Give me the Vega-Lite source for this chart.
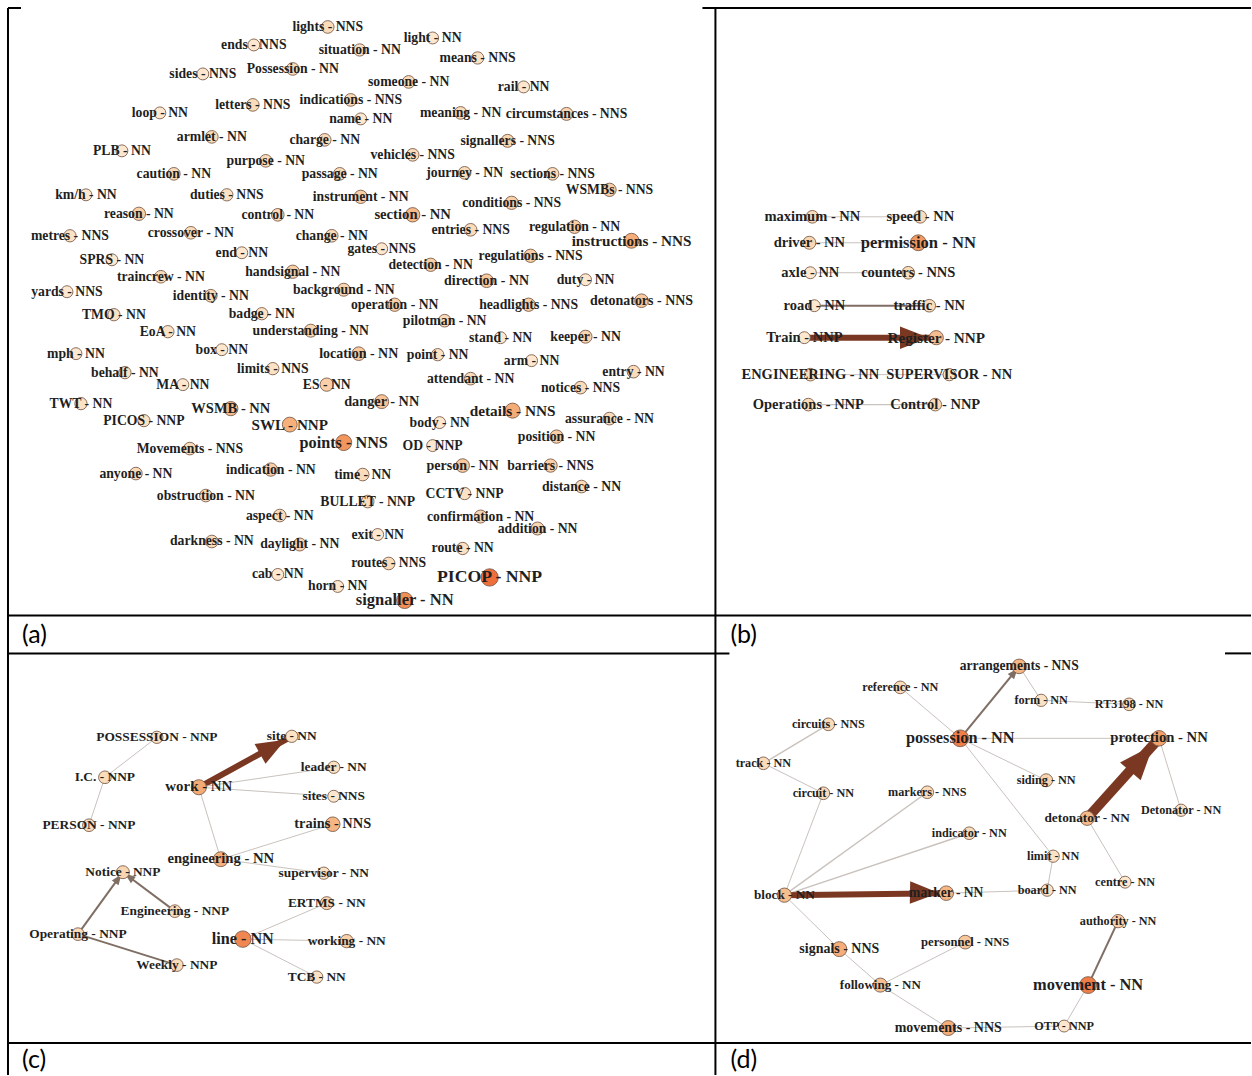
{
  "$schema": "https://vega.github.io/schema/vega-lite/v6.json",
  "autosize": {"type": "fit", "contains": "padding"},
  "width": 1252,
  "height": 1076,
  "padding": 0,
  "background": "white",
  "config": {"view": {"stroke": null}},
  "datasets": {
    "nodes": [
      {"id": "lights - NNS", "p": "a", "x": 328, "y": 27, "s": 0.2},
      {"id": "ends - NNS", "p": "a", "x": 254, "y": 45, "s": 0.1},
      {"id": "situation - NN", "p": "a", "x": 360, "y": 50, "s": 0.15},
      {"id": "light - NN", "p": "a", "x": 433, "y": 38, "s": 0.1},
      {"id": "means - NNS", "p": "a", "x": 478, "y": 58, "s": 0.15},
      {"id": "sides - NNS", "p": "a", "x": 203, "y": 74, "s": 0.1},
      {"id": "Possession - NN", "p": "a", "x": 293, "y": 69, "s": 0.2},
      {"id": "someone - NN", "p": "a", "x": 409, "y": 82, "s": 0.2},
      {"id": "rail - NN", "p": "a", "x": 524, "y": 87, "s": 0.1},
      {"id": "loop - NN", "p": "a", "x": 160, "y": 113, "s": 0.1},
      {"id": "letters - NNS", "p": "a", "x": 253, "y": 105, "s": 0.2},
      {"id": "indications - NNS", "p": "a", "x": 351, "y": 100, "s": 0.2},
      {"id": "name - NN", "p": "a", "x": 361, "y": 119, "s": 0.1},
      {"id": "meaning - NN", "p": "a", "x": 461, "y": 113, "s": 0.2},
      {"id": "circumstances - NNS", "p": "a", "x": 567, "y": 114, "s": 0.25},
      {"id": "armlet - NN", "p": "a", "x": 212, "y": 137, "s": 0.2},
      {"id": "charge - NN", "p": "a", "x": 325, "y": 140, "s": 0.2},
      {"id": "signallers - NNS", "p": "a", "x": 508, "y": 141, "s": 0.25},
      {"id": "PLB - NN", "p": "a", "x": 122, "y": 151, "s": 0.1},
      {"id": "purpose - NN", "p": "a", "x": 266, "y": 161, "s": 0.2},
      {"id": "vehicles - NNS", "p": "a", "x": 413, "y": 155, "s": 0.2},
      {"id": "caution - NN", "p": "a", "x": 174, "y": 174, "s": 0.2},
      {"id": "passage - NN", "p": "a", "x": 340, "y": 174, "s": 0.2},
      {"id": "journey - NN", "p": "a", "x": 465, "y": 173, "s": 0.2},
      {"id": "sections - NNS", "p": "a", "x": 553, "y": 174, "s": 0.2},
      {"id": "WSMBs - NNS", "p": "a", "x": 610, "y": 190, "s": 0.3},
      {"id": "km/h - NN", "p": "a", "x": 86, "y": 195, "s": 0.1},
      {"id": "duties - NNS", "p": "a", "x": 227, "y": 195, "s": 0.15},
      {"id": "instrument - NN", "p": "a", "x": 361, "y": 197, "s": 0.3},
      {"id": "conditions - NNS", "p": "a", "x": 512, "y": 203, "s": 0.3},
      {"id": "reason - NN", "p": "a", "x": 139, "y": 214, "s": 0.3},
      {"id": "control - NN", "p": "a", "x": 278, "y": 215, "s": 0.2},
      {"id": "section - NN", "p": "a", "x": 413, "y": 215, "s": 0.47},
      {"id": "regulation - NN", "p": "a", "x": 575, "y": 227, "s": 0.3},
      {"id": "metres - NNS", "p": "a", "x": 70, "y": 236, "s": 0.15},
      {"id": "crossover - NN", "p": "a", "x": 191, "y": 233, "s": 0.2},
      {"id": "change - NN", "p": "a", "x": 332, "y": 236, "s": 0.2},
      {"id": "entries - NNS", "p": "a", "x": 471, "y": 230, "s": 0.2},
      {"id": "instructions - NNS", "p": "a", "x": 632, "y": 241, "s": 0.56},
      {"id": "end - NN", "p": "a", "x": 242, "y": 253, "s": 0.1},
      {"id": "gates - NNS", "p": "a", "x": 382, "y": 249, "s": 0.1},
      {"id": "SPRS - NN", "p": "a", "x": 112, "y": 260, "s": 0.1},
      {"id": "detection - NN", "p": "a", "x": 431, "y": 265, "s": 0.3},
      {"id": "regulations - NNS", "p": "a", "x": 531, "y": 256, "s": 0.3},
      {"id": "traincrew - NN", "p": "a", "x": 161, "y": 277, "s": 0.2},
      {"id": "handsignal - NN", "p": "a", "x": 293, "y": 272, "s": 0.3},
      {"id": "direction - NN", "p": "a", "x": 487, "y": 281, "s": 0.35},
      {"id": "duty - NN", "p": "a", "x": 586, "y": 280, "s": 0.1},
      {"id": "yards - NNS", "p": "a", "x": 67, "y": 292, "s": 0.1},
      {"id": "identity - NN", "p": "a", "x": 211, "y": 296, "s": 0.2},
      {"id": "background - NN", "p": "a", "x": 344, "y": 290, "s": 0.25},
      {"id": "operation - NN", "p": "a", "x": 395, "y": 305, "s": 0.3},
      {"id": "headlights - NNS", "p": "a", "x": 529, "y": 305, "s": 0.3},
      {"id": "detonators - NNS", "p": "a", "x": 642, "y": 301, "s": 0.35},
      {"id": "TMO - NN", "p": "a", "x": 114, "y": 315, "s": 0.15},
      {"id": "badge - NN", "p": "a", "x": 262, "y": 314, "s": 0.15},
      {"id": "pilotman - NN", "p": "a", "x": 445, "y": 321, "s": 0.2},
      {"id": "EoA - NN", "p": "a", "x": 168, "y": 332, "s": 0.15},
      {"id": "understanding - NN", "p": "a", "x": 311, "y": 331, "s": 0.25},
      {"id": "stand - NN", "p": "a", "x": 501, "y": 338, "s": 0.1},
      {"id": "keeper - NN", "p": "a", "x": 586, "y": 337, "s": 0.25},
      {"id": "mph - NN", "p": "a", "x": 76, "y": 354, "s": 0.1},
      {"id": "box - NN", "p": "a", "x": 222, "y": 350, "s": 0.1},
      {"id": "location - NN", "p": "a", "x": 359, "y": 354, "s": 0.35},
      {"id": "point - NN", "p": "a", "x": 438, "y": 355, "s": 0.15},
      {"id": "arm - NN", "p": "a", "x": 532, "y": 361, "s": 0.1},
      {"id": "behalf - NN", "p": "a", "x": 125, "y": 373, "s": 0.15},
      {"id": "limits - NNS", "p": "a", "x": 273, "y": 369, "s": 0.15},
      {"id": "entry - NN", "p": "a", "x": 634, "y": 372, "s": 0.2},
      {"id": "MA - NN", "p": "a", "x": 183, "y": 385, "s": 0.1},
      {"id": "ES - NN", "p": "a", "x": 327, "y": 385, "s": 0.3},
      {"id": "attendant - NN", "p": "a", "x": 471, "y": 379, "s": 0.2},
      {"id": "notices - NNS", "p": "a", "x": 581, "y": 388, "s": 0.2},
      {"id": "TWT - NN", "p": "a", "x": 81, "y": 404, "s": 0.15},
      {"id": "danger - NN", "p": "a", "x": 382, "y": 402, "s": 0.4},
      {"id": "WSMB - NN", "p": "a", "x": 231, "y": 409, "s": 0.44},
      {"id": "details - NNS", "p": "a", "x": 513, "y": 411, "s": 0.58},
      {"id": "PICOS - NNP", "p": "a", "x": 144, "y": 421, "s": 0.15},
      {"id": "SWL - NNP", "p": "a", "x": 290, "y": 425, "s": 0.55},
      {"id": "body - NN", "p": "a", "x": 440, "y": 423, "s": 0.1},
      {"id": "assurance - NN", "p": "a", "x": 610, "y": 419, "s": 0.2},
      {"id": "position - NN", "p": "a", "x": 557, "y": 437, "s": 0.3},
      {"id": "Movements - NNS", "p": "a", "x": 190, "y": 449, "s": 0.2},
      {"id": "points - NNS", "p": "a", "x": 344, "y": 443, "s": 0.74},
      {"id": "OD - NNP", "p": "a", "x": 433, "y": 446, "s": 0.1},
      {"id": "anyone - NN", "p": "a", "x": 136, "y": 474, "s": 0.2},
      {"id": "indication - NN", "p": "a", "x": 271, "y": 470, "s": 0.3},
      {"id": "time - NN", "p": "a", "x": 363, "y": 475, "s": 0.2},
      {"id": "person - NN", "p": "a", "x": 463, "y": 466, "s": 0.35},
      {"id": "barriers - NNS", "p": "a", "x": 551, "y": 466, "s": 0.3},
      {"id": "distance - NN", "p": "a", "x": 582, "y": 487, "s": 0.2},
      {"id": "obstruction - NN", "p": "a", "x": 206, "y": 496, "s": 0.2},
      {"id": "BULLET - NNP", "p": "a", "x": 368, "y": 502, "s": 0.2},
      {"id": "CCTV - NNP", "p": "a", "x": 465, "y": 494, "s": 0.15},
      {"id": "aspect - NN", "p": "a", "x": 280, "y": 516, "s": 0.2},
      {"id": "confirmation - NN", "p": "a", "x": 481, "y": 517, "s": 0.25},
      {"id": "addition - NN", "p": "a", "x": 538, "y": 529, "s": 0.25},
      {"id": "darkness - NN", "p": "a", "x": 212, "y": 542, "s": 0.2},
      {"id": "daylight - NN", "p": "a", "x": 300, "y": 545, "s": 0.25},
      {"id": "exit - NN", "p": "a", "x": 378, "y": 535, "s": 0.1},
      {"id": "route - NN", "p": "a", "x": 463, "y": 549, "s": 0.15},
      {"id": "routes - NNS", "p": "a", "x": 389, "y": 564, "s": 0.2},
      {"id": "cab - NN", "p": "a", "x": 278, "y": 575, "s": 0.1},
      {"id": "horn - NN", "p": "a", "x": 338, "y": 587, "s": 0.1},
      {"id": "PICOP - NNP", "p": "a", "x": 490, "y": 578, "s": 1.0},
      {"id": "signaller - NN", "p": "a", "x": 405, "y": 601, "s": 0.79},

      {"id": "maximum - NN", "p": "b", "x": 813, "y": 217, "s": 0.2},
      {"id": "speed - NN", "p": "b", "x": 921, "y": 217, "s": 0.2},
      {"id": "driver - NN", "p": "b", "x": 810, "y": 243, "s": 0.25},
      {"id": "permission - NN", "p": "b", "x": 919, "y": 243, "s": 0.72},
      {"id": "axle - NN", "p": "b", "x": 811, "y": 273, "s": 0.1},
      {"id": "counters - NNS", "p": "b", "x": 909, "y": 273, "s": 0.2},
      {"id": "road - NN", "p": "b", "x": 815, "y": 306, "s": 0.1},
      {"id": "traffic - NN", "p": "b", "x": 930, "y": 306, "s": 0.2},
      {"id": "Train - NNP", "p": "b", "x": 805, "y": 338, "s": 0.1},
      {"id": "Register - NNP", "p": "b", "x": 937, "y": 338, "s": 0.44},
      {"id": "ENGINEERING - NN", "p": "b", "x": 811, "y": 375, "s": 0.2},
      {"id": "SUPERVISOR - NN", "p": "b", "x": 950, "y": 375, "s": 0.15},
      {"id": "Operations - NNP", "p": "b", "x": 809, "y": 405, "s": 0.2},
      {"id": "Control - NNP", "p": "b", "x": 936, "y": 405, "s": 0.2},

      {"id": "POSSESSION - NNP", "p": "c", "x": 157, "y": 738, "s": 0.15},
      {"id": "site - NN", "p": "c", "x": 292, "y": 737, "s": 0.15},
      {"id": "I.C. - NNP", "p": "c", "x": 105, "y": 778, "s": 0.2},
      {"id": "work - NN", "p": "c", "x": 199, "y": 788, "s": 0.59},
      {"id": "leader - NN", "p": "c", "x": 334, "y": 768, "s": 0.15},
      {"id": "sites - NNS", "p": "c", "x": 334, "y": 797, "s": 0.1},
      {"id": "PERSON - NNP", "p": "c", "x": 89, "y": 826, "s": 0.2},
      {"id": "trains - NNS", "p": "c", "x": 333, "y": 825, "s": 0.5},
      {"id": "engineering - NN", "p": "c", "x": 221, "y": 860, "s": 0.55},
      {"id": "Notice - NNP", "p": "c", "x": 123, "y": 873, "s": 0.25},
      {"id": "supervisor - NN", "p": "c", "x": 324, "y": 874, "s": 0.15},
      {"id": "ERTMS - NN", "p": "c", "x": 327, "y": 904, "s": 0.25},
      {"id": "Engineering - NNP", "p": "c", "x": 175, "y": 912, "s": 0.2},
      {"id": "Operating - NNP", "p": "c", "x": 78, "y": 935, "s": 0.2},
      {"id": "line - NN", "p": "c", "x": 243, "y": 940, "s": 0.84},
      {"id": "working - NN", "p": "c", "x": 347, "y": 942, "s": 0.3},
      {"id": "Weekly - NNP", "p": "c", "x": 177, "y": 966, "s": 0.2},
      {"id": "TCB - NN", "p": "c", "x": 317, "y": 978, "s": 0.15},

      {"id": "arrangements - NNS", "p": "d", "x": 1020, "y": 667, "s": 0.5},
      {"id": "reference - NN", "p": "d", "x": 901, "y": 688, "s": 0.2},
      {"id": "form - NN", "p": "d", "x": 1042, "y": 701, "s": 0.15},
      {"id": "RT3198 - NN", "p": "d", "x": 1130, "y": 705, "s": 0.2},
      {"id": "circuits - NNS", "p": "d", "x": 829, "y": 725, "s": 0.2},
      {"id": "possession - NN", "p": "d", "x": 961, "y": 739, "s": 0.9},
      {"id": "protection - NN", "p": "d", "x": 1160, "y": 739, "s": 0.66},
      {"id": "track - NN", "p": "d", "x": 764, "y": 764, "s": 0.2},
      {"id": "siding - NN", "p": "d", "x": 1047, "y": 781, "s": 0.25},
      {"id": "circuit - NN", "p": "d", "x": 824, "y": 794, "s": 0.2},
      {"id": "markers - NNS", "p": "d", "x": 928, "y": 793, "s": 0.2},
      {"id": "Detonator - NN", "p": "d", "x": 1182, "y": 811, "s": 0.15},
      {"id": "detonator - NN", "p": "d", "x": 1088, "y": 819, "s": 0.46},
      {"id": "indicator - NN", "p": "d", "x": 970, "y": 834, "s": 0.2},
      {"id": "limit - NN", "p": "d", "x": 1054, "y": 857, "s": 0.15},
      {"id": "block - NN", "p": "d", "x": 785, "y": 896, "s": 0.45},
      {"id": "marker - NN", "p": "d", "x": 947, "y": 894, "s": 0.5},
      {"id": "board - NN", "p": "d", "x": 1048, "y": 891, "s": 0.15},
      {"id": "centre - NN", "p": "d", "x": 1126, "y": 883, "s": 0.1},
      {"id": "authority - NN", "p": "d", "x": 1119, "y": 922, "s": 0.3},
      {"id": "signals - NNS", "p": "d", "x": 840, "y": 950, "s": 0.56},
      {"id": "personnel - NNS", "p": "d", "x": 966, "y": 943, "s": 0.36},
      {"id": "following - NN", "p": "d", "x": 881, "y": 986, "s": 0.42},
      {"id": "movement - NN", "p": "d", "x": 1089, "y": 986, "s": 0.91},
      {"id": "movements - NNS", "p": "d", "x": 949, "y": 1029, "s": 0.56},
      {"id": "OTP - NNP", "p": "d", "x": 1065, "y": 1027, "s": 0.1}
    ],
    "edges": [
      {"source": "maximum - NN", "target": "speed - NN", "w": 1},
      {"source": "driver - NN", "target": "permission - NN", "w": 1},
      {"source": "axle - NN", "target": "counters - NNS", "w": 1},
      {"source": "road - NN", "target": "traffic - NN", "w": 2},
      {"source": "Train - NNP", "target": "Register - NNP", "w": 6, "h": 90},
      {"source": "ENGINEERING - NN", "target": "SUPERVISOR - NN", "w": 1},
      {"source": "Operations - NNP", "target": "Control - NNP", "w": 1.2},

      {"source": "POSSESSION - NNP", "target": "I.C. - NNP", "w": 1},
      {"source": "I.C. - NNP", "target": "PERSON - NNP", "w": 1},
      {"source": "work - NN", "target": "site - NN", "w": 6, "h": 61},
      {"source": "work - NN", "target": "leader - NN", "w": 1},
      {"source": "work - NN", "target": "sites - NNS", "w": 1},
      {"source": "work - NN", "target": "engineering - NN", "w": 1},
      {"source": "engineering - NN", "target": "trains - NNS", "w": 1},
      {"source": "engineering - NN", "target": "supervisor - NN", "w": 1},
      {"source": "Operating - NNP", "target": "Notice - NNP", "w": 2, "h": 36},
      {"source": "Engineering - NNP", "target": "Notice - NNP", "w": 2, "h": 307},
      {"source": "Operating - NNP", "target": "Weekly - NNP", "w": 2},
      {"source": "line - NN", "target": "ERTMS - NN", "w": 1},
      {"source": "line - NN", "target": "working - NN", "w": 1},
      {"source": "line - NN", "target": "TCB - NN", "w": 1},

      {"source": "possession - NN", "target": "arrangements - NNS", "w": 2, "h": 39},
      {"source": "arrangements - NNS", "target": "form - NN", "w": 1},
      {"source": "form - NN", "target": "RT3198 - NN", "w": 1},
      {"source": "reference - NN", "target": "possession - NN", "w": 1},
      {"source": "possession - NN", "target": "protection - NN", "w": 1},
      {"source": "possession - NN", "target": "siding - NN", "w": 1},
      {"source": "possession - NN", "target": "limit - NN", "w": 1},
      {"source": "circuits - NNS", "target": "track - NN", "w": 1.4},
      {"source": "track - NN", "target": "circuit - NN", "w": 1},
      {"source": "circuit - NN", "target": "block - NN", "w": 1},
      {"source": "markers - NNS", "target": "block - NN", "w": 1.4},
      {"source": "indicator - NN", "target": "block - NN", "w": 1.4},
      {"source": "block - NN", "target": "marker - NN", "w": 6, "h": 91},
      {"source": "marker - NN", "target": "board - NN", "w": 1},
      {"source": "limit - NN", "target": "board - NN", "w": 1},
      {"source": "detonator - NN", "target": "protection - NN", "w": 10, "h": 41},
      {"source": "protection - NN", "target": "Detonator - NN", "w": 1},
      {"source": "detonator - NN", "target": "centre - NN", "w": 1},
      {"source": "block - NN", "target": "signals - NNS", "w": 1},
      {"source": "signals - NNS", "target": "following - NN", "w": 1},
      {"source": "following - NN", "target": "personnel - NNS", "w": 1},
      {"source": "following - NN", "target": "movements - NNS", "w": 1},
      {"source": "movements - NNS", "target": "OTP - NNP", "w": 1},
      {"source": "OTP - NNP", "target": "movement - NN", "w": 1},
      {"source": "movement - NN", "target": "authority - NN", "w": 2}
    ],
    "borders": [
      {"x": 8, "x2": 21, "y": 8, "y2": 8},
      {"x": 703, "x2": 1252, "y": 8, "y2": 8},
      {"x": 8, "x2": 1252, "y": 616, "y2": 616},
      {"x": 8, "x2": 730, "y": 654, "y2": 654},
      {"x": 1226, "x2": 1252, "y": 654, "y2": 654},
      {"x": 8, "x2": 1252, "y": 1044, "y2": 1044},
      {"x": 8, "x2": 8, "y": 8, "y2": 1076},
      {"x": 716, "x2": 716, "y": 8, "y2": 1076}
    ],
    "captions": [
      {"t": "(a)", "x": 22, "y": 636},
      {"t": "(b)", "x": 731, "y": 636},
      {"t": "(c)", "x": 22, "y": 1061},
      {"t": "(d)", "x": 731, "y": 1061}
    ]
  },
  "layer": [
    {
      "data": {"name": "borders"},
      "mark": {"type": "rule", "color": "#000000", "strokeWidth": 2},
      "encoding": {
        "x": {"field": "x", "type": "quantitative", "scale": {"domain": [0, 1252], "nice": false, "zero": false}, "axis": null},
        "y": {"field": "y", "type": "quantitative", "scale": {"domain": [0, 1076], "nice": false, "zero": false, "reverse": true}, "axis": null},
        "x2": {"field": "x2"},
        "y2": {"field": "y2"}
      }
    },
    {
      "data": {"name": "captions"},
      "mark": {"type": "text", "font": "Lato", "fontSize": 25, "align": "left", "baseline": "middle", "fill": "#000000"},
      "encoding": {
        "x": {"field": "x", "type": "quantitative", "axis": null},
        "y": {"field": "y", "type": "quantitative", "axis": null},
        "text": {"field": "t"}
      }
    },
    {
      "data": {"name": "edges"},
      "transform": [
        {"lookup": "source", "from": {"data": {"name": "nodes"}, "key": "id", "fields": ["x", "y"]}, "as": ["sx", "sy"]},
        {"lookup": "target", "from": {"data": {"name": "nodes"}, "key": "id", "fields": ["x", "y"]}, "as": ["tx", "ty"]}
      ],
      "mark": {"type": "rule", "strokeCap": "butt"},
      "encoding": {
        "x": {"field": "sx", "type": "quantitative", "axis": null},
        "y": {"field": "sy", "type": "quantitative", "axis": null},
        "x2": {"field": "tx"},
        "y2": {"field": "ty"},
        "strokeWidth": {"field": "w", "type": "quantitative", "scale": {"domain": [0, 10], "range": [0, 10]}, "legend": null},
        "color": {"field": "w", "type": "quantitative", "scale": {"type": "threshold", "domain": [1.5, 4], "range": ["#c9c2bd", "#7f6e64", "#7a3822"]}, "legend": null}
      }
    },
    {
      "data": {"name": "edges"},
      "transform": [
        {"filter": "isValid(datum.h)"},
        {"lookup": "target", "from": {"data": {"name": "nodes"}, "key": "id", "fields": ["x", "y"]}, "as": ["tx", "ty"]}
      ],
      "mark": {"type": "point", "shape": "M0,0.5L0.78,2.5L-0.78,2.5Z", "filled": true, "opacity": 1, "strokeWidth": 0},
      "encoding": {
        "x": {"field": "tx", "type": "quantitative", "axis": null},
        "y": {"field": "ty", "type": "quantitative", "axis": null},
        "angle": {"field": "h", "type": "quantitative", "scale": {"domain": [0, 360], "range": [0, 360]}, "legend": null},
        "size": {"field": "w", "type": "quantitative", "scale": {"type": "linear", "domain": [2, 6, 10], "range": [110, 841, 1225]}, "legend": null},
        "color": {"field": "w", "type": "quantitative", "scale": {"type": "threshold", "domain": [1.5, 4], "range": ["#c9c2bd", "#7f6e64", "#7a3822"]}, "legend": null}
      }
    },
    {
      "data": {"name": "nodes"},
      "mark": {"type": "circle", "stroke": "#7d5f4d", "strokeWidth": 0.9, "opacity": 1},
      "encoding": {
        "x": {"field": "x", "type": "quantitative", "axis": null},
        "y": {"field": "y", "type": "quantitative", "axis": null},
        "size": {"field": "s", "type": "quantitative", "scale": {"domain": [0, 1], "range": [125, 300]}, "legend": null},
        "color": {"field": "s", "type": "quantitative", "scale": {"domain": [0, 1], "range": ["#fff3e4", "#ee6e3c"]}, "legend": null}
      }
    },
    {
      "data": {"name": "nodes"},
      "transform": [{"filter": "datum.p == 'a'"}],
      "mark": {"type": "text", "font": "Liberation Serif", "fontWeight": "bold", "fill": "#1f1f1f", "align": "center", "baseline": "middle"},
      "encoding": {
        "x": {"field": "x", "type": "quantitative", "axis": null},
        "y": {"field": "y", "type": "quantitative", "axis": null},
        "text": {"field": "id"},
        "size": {"field": "s", "type": "quantitative", "scale": {"domain": [0.3, 1], "range": [13.7, 17.7], "clamp": true}, "legend": null}
      }
    },
    {
      "data": {"name": "nodes"},
      "transform": [{"filter": "datum.p == 'b'"}],
      "mark": {"type": "text", "font": "Liberation Serif", "fontWeight": "bold", "fill": "#1f1f1f", "align": "center", "baseline": "middle"},
      "encoding": {
        "x": {"field": "x", "type": "quantitative", "axis": null},
        "y": {"field": "y", "type": "quantitative", "axis": null},
        "text": {"field": "id"},
        "size": {"field": "s", "type": "quantitative", "scale": {"domain": [0.3, 1], "range": [14.5, 18], "clamp": true}, "legend": null}
      }
    },
    {
      "data": {"name": "nodes"},
      "transform": [{"filter": "datum.p == 'c'"}],
      "mark": {"type": "text", "font": "Liberation Serif", "fontWeight": "bold", "fill": "#1f1f1f", "align": "center", "baseline": "middle"},
      "encoding": {
        "x": {"field": "x", "type": "quantitative", "axis": null},
        "y": {"field": "y", "type": "quantitative", "axis": null},
        "text": {"field": "id"},
        "size": {"field": "s", "type": "quantitative", "scale": {"domain": [0.3, 1], "range": [13.4, 17], "clamp": true}, "legend": null}
      }
    },
    {
      "data": {"name": "nodes"},
      "transform": [{"filter": "datum.p == 'd'"}],
      "mark": {"type": "text", "font": "Liberation Serif", "fontWeight": "bold", "fill": "#1f1f1f", "align": "center", "baseline": "middle"},
      "encoding": {
        "x": {"field": "x", "type": "quantitative", "axis": null},
        "y": {"field": "y", "type": "quantitative", "axis": null},
        "text": {"field": "id"},
        "size": {"field": "s", "type": "quantitative", "scale": {"domain": [0.3, 1], "range": [12.2, 17], "clamp": true}, "legend": null}
      }
    }
  ],
  "resolve": {"scale": {"size": "independent", "color": "independent", "strokeWidth": "independent"}}
}
